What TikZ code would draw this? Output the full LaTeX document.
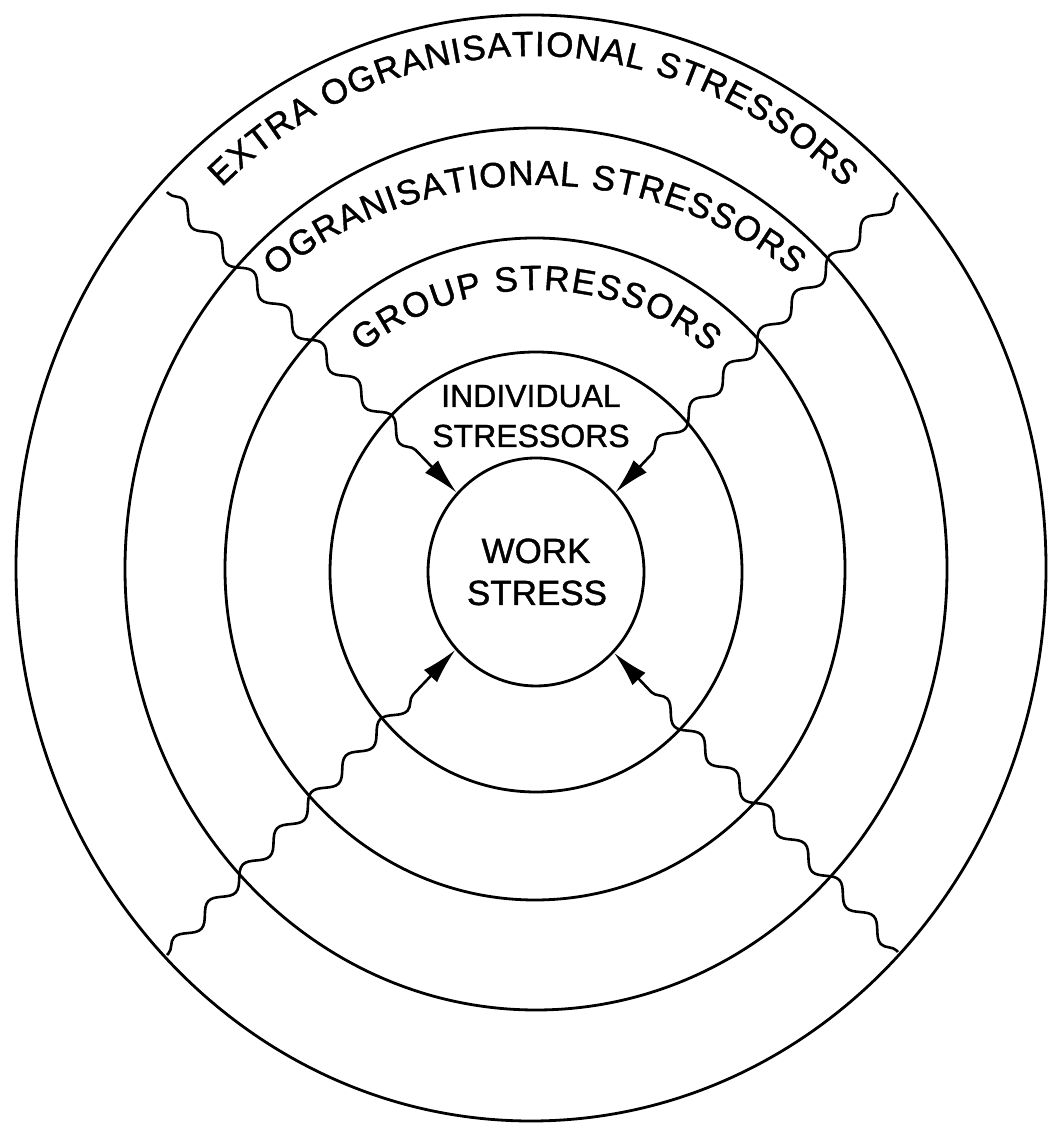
\documentclass[tikz,border=0pt]{standalone}
\usepackage{fontspec}
\setmainfont{Liberation Sans}[FakeBold=1.2]
\usetikzlibrary{shapes.geometric,decorations.pathmorphing,decorations.text,arrows.meta}
\newcommand\curvefont{\fontsize{17.5}{17.5}\selectfont}
\newcommand\smallfont{\fontsize{16}{16}\selectfont}
\begin{document}
\begin{tikzpicture}[x=0.5pt,y=0.5pt,
  ring/.style={draw, ellipse, line width=1.4pt, inner sep=0pt},
  wavy/.style={line width=1.3pt, decorate,
    decoration={snake, segment length=25pt, amplitude=3.5pt, pre length=1pt, post length=19pt},
    -{Latex[length=18pt,width=9pt]}},
  lbl/.style={anchor=base, inner sep=0pt},
  curved/.style={decorate, decoration={text along path, text align={fit to path}, text={|\curvefont|#1}}}]
\fill[white] (0,0) rectangle (1051,1128);
\useasboundingbox (0,0) rectangle (1051,1128);
% rings
\node[ring, minimum width=515pt, minimum height=553pt] (e1) at (531,560) {};
\node[ring, minimum width=411pt, minimum height=441pt] (e2) at (536,559) {};
\node[ring, minimum width=310pt, minimum height=331pt] (e3) at (535,559) {};
\node[ring, minimum width=206pt, minimum height=220pt] (e4) at (536,556) {};
\node[ring, minimum width=108pt, minimum height=114pt] (ws) at (536,556) {};
% curved labels
\path[curved={EXTRA OGRANISATIONAL STRESSORS}] (533,560) ++(132:465 and 512) arc[start angle=132, end angle=48, x radius=465, y radius=512];
\path[curved={OGRANISATIONAL STRESSORS}] (536,559) ++(130.5:402 and 384) arc[start angle=130.5, end angle=50, x radius=402, y radius=384];
\path[curved={GROUP STRESSORS}] (536,559) ++(129:276 and 279) arc[start angle=129, end angle=51, x radius=276, y radius=279];
% straight labels
\node[lbl, font=\smallfont] (ind1) at (531,721) {INDIVIDUAL};
\node[lbl, font=\smallfont] (ind2) at (531,681) {STRESSORS};
\node[lbl, font=\curvefont] (wk1) at (536,565) {WORK};
\node[lbl, font=\curvefont] (wk2) at (537,523) {STRESS};
% wavy arrows
\coordinate (ul) at (167,936);
\coordinate (ur) at (898,935);
\coordinate (ll) at (167,173);
\coordinate (lr) at (898,176);
\draw[wavy] (ul) -- (ws.135.7);
\draw[wavy] (ur) -- (ws.45.3);
\draw[wavy] (ll) -- (ws.224);
\draw[wavy] (lr) -- (ws.314.3);
\end{tikzpicture}
\end{document}
